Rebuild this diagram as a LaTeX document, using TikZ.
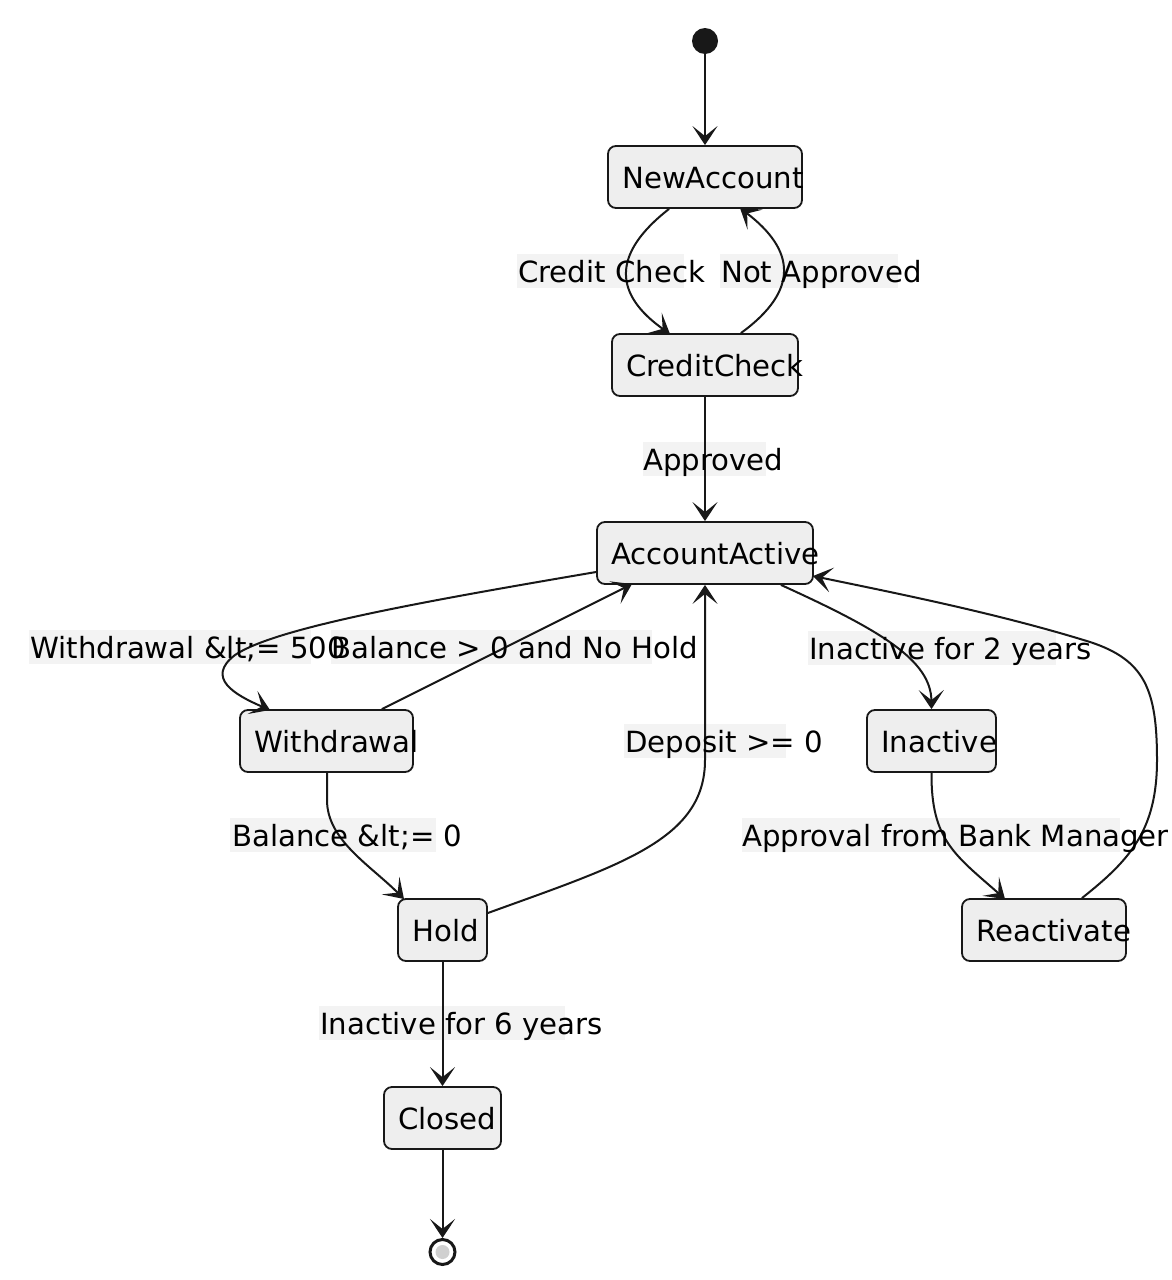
\documentclass[tikz,border=0pt]{standalone}
\usepackage{fontspec}
\setmainfont{DejaVu Sans}
\usetikzlibrary{arrows.meta}
\definecolor{boxfill}{HTML}{EEEEEE}
\definecolor{boxline}{HTML}{181818}
\definecolor{lblfill}{HTML}{F3F3F3}
\definecolor{endfill}{HTML}{D0D0D0}
\begin{document}
\begin{tikzpicture}[x=1pt,y=-1pt,
  statebox/.style={draw=boxline, fill=boxfill, rounded corners=8pt, line width=1.8pt, inner sep=0pt, minimum height=62pt},
  stxt/.style={anchor=base west, inner sep=0pt, font=\fontsize{29.2}{34}\selectfont},
  lblbg/.style={fill=lblfill, inner sep=0pt, anchor=north west, minimum height=34pt},
  ltxt/.style={anchor=base west, inner sep=0pt, font=\fontsize{29.2}{34}\selectfont},
  arr/.style={draw=boxline, line width=2pt, -{Stealth[length=19pt,width=25pt,inset=10pt]}}]
\useasboundingbox (0,0) rectangle (1172,1280);
\fill[white] (0,0) rectangle (1172,1280);

% states
\node[circle, fill=boxline, minimum size=26pt, inner sep=0pt] (start) at (705,41) {};
\node[statebox, minimum width=194pt] (na) at (705,177) {};
\node[statebox, minimum width=186pt] (cc) at (705,365) {};
\node[statebox, minimum width=216pt] (aa) at (705,553) {};
\node[statebox, minimum width=173pt] (wd) at (326.5,741) {};
\node[statebox, minimum width=129pt] (ina) at (931.5,741) {};
\node[statebox, minimum width=89pt] (hd) at (442.5,930) {};
\node[statebox, minimum width=164pt] (re) at (1044,930) {};
\node[statebox, minimum width=117pt] (cl) at (442.5,1118) {};
\node[circle, draw=boxline, line width=3pt, fill=white, minimum size=25pt, inner sep=0pt] (fin) at (442.5,1252) {};
\fill[endfill] (fin.center) circle (7pt);

% label backgrounds
\node[lblbg, minimum width=167pt] (l1) at (517,254) {};
\node[lblbg, minimum width=178pt] (l2) at (720,254) {};
\node[lblbg, minimum width=123pt] (l3) at (643,442) {};
\node[lblbg, minimum width=282pt] (l4) at (29,630) {};
\node[lblbg, minimum width=321pt] (l5) at (331,630) {};
\node[lblbg, minimum width=248pt] (l6) at (808,631) {};
\node[lblbg, minimum width=162pt] (l7) at (624,724) {};
\node[lblbg, minimum width=206pt] (l8) at (230,818) {};
\node[lblbg, minimum width=378pt] (l9) at (742,818) {};
\node[lblbg, minimum width=246pt] (l10) at (319,1006) {};

% transitions
\draw[arr] (start) -- (na);
\draw[arr] (na.south west) ++(62,0) coordinate (a1) .. controls (610,255) and (615,295) .. (670,334) coordinate (a1e);
\draw[arr] (cc.north east) ++(-58,0) coordinate (a2) .. controls (800,290) and (795,250) .. (740,208) coordinate (a2e);
\draw[arr] (cc) -- (aa);
\draw[arr] (aa.west) ++(0,19) coordinate (a4) .. controls (420,602) and (275,628) .. (235,655) .. controls (205,678) and (235,695) .. (270,710);
\draw[arr] (wd.north east) ++(-32,0) coordinate (a5) -- (632,584);
\draw[arr] (hd.east) ++(0,-17) coordinate (a6) .. controls (620,865) and (705,840) .. (705,760) -- (aa.south);
\draw[arr] (aa.south east) ++(-33,0) coordinate (a7) .. controls (880,630) and (931,660) .. (ina.north);
\draw[arr] (ina.south) .. controls (931,840) and (955,855) .. (1005,899);
\draw[arr] (re.north east) ++(-45,0) coordinate (a9) .. controls (1130,860) and (1157,830) .. (1157,760) .. controls (1157,690) and (1145,660) .. (1090,642) .. controls (1000,614) and (900,594) .. (813,576);
\draw[arr] (wd.south) ++(0.5,0) coordinate (a10) -- (327,800) .. controls (327,840) and (370,865) .. (404,899);
\draw[arr] (hd.south) -- (cl.north);
\draw[arr] (cl.south) -- (fin.north);

% state texts
\node[stxt] (naT) at (622,188) {NewAccount};
\node[stxt] (ccT) at (626,376) {CreditCheck};
\node[stxt] (aaT) at (611,564) {AccountActive};
\node[stxt] (wdT) at (254,752) {Withdrawal};
\node[stxt] (inT) at (881,752) {Inactive};
\node[stxt] (hdT) at (412,941) {Hold};
\node[stxt] (reT) at (976,941) {Reactivate};
\node[stxt] (clT) at (398,1129) {Closed};

% label texts
\node[ltxt] (t1) at (518,282) {Credit Check};
\node[ltxt] (t2) at (721,282) {Not Approved};
\node[ltxt] (t3) at (643,470) {Approved};
\node[ltxt] (t4) at (30,658) {Withdrawal \&lt;= 500};
\node[ltxt] (t5) at (331,658) {Balance > 0 and No Hold};
\node[ltxt] (t6) at (809,659) {Inactive for 2 years};
\node[ltxt] (t7) at (625,752) {Deposit >= 0};
\node[ltxt] (t8) at (232,846) {Balance \&lt;= 0};
\node[ltxt] (t9) at (742,846) {Approval from Bank Manager};
\node[ltxt] (t10) at (320,1034) {Inactive for 6 years};
\end{tikzpicture}
\end{document}
